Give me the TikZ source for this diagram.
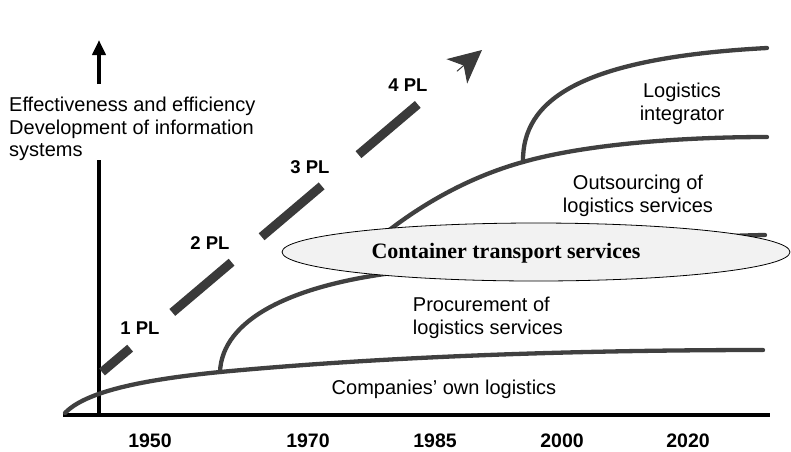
\documentclass[tikz,border=0pt]{standalone}
\usepackage{fontspec}
\setmainfont{Liberation Sans}
\newfontfamily\servicefont{Liberation Serif}
\usetikzlibrary{arrows.meta,calc,shapes.geometric}
\definecolor{curvegray}{HTML}{404040}
\definecolor{bargray}{HTML}{3A3A3A}
\definecolor{ellipsefill}{HTML}{F2F2F2}
\tikzstyle{axis}=[line width=4pt,black]
\tikzstyle{trend}=[line width=4.3pt,curvegray,line cap=round]
\tikzstyle{plstep}=[line width=9pt,bargray]
\tikzstyle{sector}=[align=center,inner sep=0pt,font=\fontsize{20}{22.5}\selectfont]
\tikzstyle{year}=[inner sep=0pt,font=\bfseries\fontsize{19.5}{22}\selectfont]
\tikzstyle{plname}=[inner sep=0pt,font=\bfseries\fontsize{18.5}{20}\selectfont]
\tikzstyle{service}=[ellipse,draw=black,line width=0.8pt,fill=ellipsefill,minimum width=508pt,minimum height=58pt]

\begin{document}
\begin{tikzpicture}[x=1pt,y=-1pt]
    \useasboundingbox (0,0) rectangle (791,451);

    % axes
    \coordinate (xstart) at (63,415);
    \coordinate (xend) at (770,415);
    \coordinate (origin) at (99,415);
    \coordinate (ygap) at (99,160);
    \coordinate (yresume) at (99,84);
    \coordinate (ytip) at (99,40);
    \draw [axis] (xstart) -- (xend);
    \draw [axis] (origin) -- (ygap);
    \draw [axis,-{Triangle[length=15pt,width=13pt]}] (yresume) -- (ytip);
    \node [sector,align=left,anchor=north west] (ylabel) at (9,97)
        {Effectiveness and efficiency\\Development of information\\systems};

    \foreach \yr/\x in {1950/150,1970/308,1985/435,2000/562,2020/688}
        \node [year] (y\yr) at (\x,441) {\yr};

    % 1 PL ... 4 PL
    \coordinate (plstart) at (102,372);
    \coordinate (plend) at (482,50);
    \foreach \from/\to in {0/0.074,0.185/0.341,0.42/0.578,0.675/0.831}
        \draw [plstep] ($(plstart)!\from!(plend)$) -- ($(plstart)!\to!(plend)$);
    \draw [plstep,line width=1pt,-{Stealth[length=33pt,width=32pt,inset=9pt]}]
        ($(plstart)!0.934!(plend)$) -- (plend);
    \node [plname] (pl1) at (140,328) {1 PL};
    \node [plname] (pl2) at (210,243) {2 PL};
    \node [plname] (pl3) at (310,167) {3 PL};
    \node [plname] (pl4) at (408,85) {4 PL};

    % logistics curves
    \coordinate (own0) at (65,413);
    \coordinate (procbranch) at (220,372);
    \coordinate (ownend) at (763,350);
    \coordinate (procmid) at (400,272);
    \coordinate (procend) at (765,235);
    \coordinate (outstart) at (352,262);
    \coordinate (intbranch) at (523,162);
    \coordinate (outend) at (767,137);
    \coordinate (intend) at (767,48);
    \draw [trend] (own0) .. controls (85,392) and (140,380) .. (procbranch)
        .. controls (400,355) and (600,350) .. (ownend);
    \draw [trend] (procbranch) .. controls (222,320) and (290,285) .. (procmid)
        .. controls (550,252) and (650,237) .. (procend);
    \draw [trend] (outstart) .. controls (380,235) and (440,185) .. (intbranch)
        .. controls (590,143) and (690,137) .. (outend);
    \draw [trend] (intbranch) .. controls (522,100) and (580,58) .. (intend);

    \node [service] (cts) at (536,252) {};
    \node [font=\servicefont\bfseries\fontsize{22}{24}\selectfont] (ctslabel) at (506,253)
        {Container transport services};

    \node [sector] (integrator) at (682,104) {Logistics\\integrator};
    \node [sector] (outsourcing) at (638,196) {Outsourcing of\\logistics services};
    \node [sector,align=left] (procurement) at (488,318) {Procurement of\\logistics services};
    \node [sector] (own) at (444,389) {Companies' own logistics};
\end{tikzpicture}
\end{document}
